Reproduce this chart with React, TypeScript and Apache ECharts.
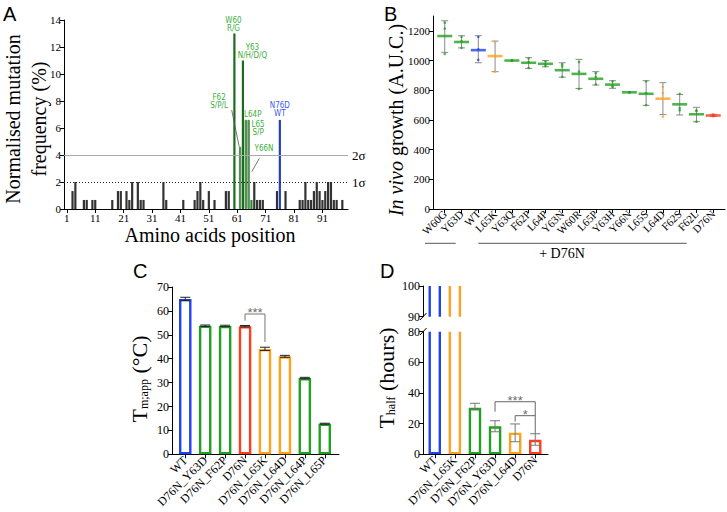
import React, { useEffect, useRef } from 'react';
import * as echarts from 'echarts';

const SERIF = "'Liberation Serif','Times New Roman',serif";
const SANS = "'Liberation Sans',Arial,sans-serif";
const NARROW = "'Liberation Sans Narrow','Arial Narrow','DejaVu Sans Condensed','Liberation Sans',sans-serif";

const COLOR: Record<string, string> = { g: '#22a022', b: '#2244ee', o: '#ffa11e', r: '#ff3d1f' };
const LABEL_GREEN = '#3cae3c';
const LABEL_BLUE = '#3a5cf0';

// ---------- Panel A: mutation frequency per position ----------
const aTickPositions = [1, 11, 21, 31, 41, 51, 61, 71, 81, 91];
const aPositions = [3, 4, 7, 8, 10, 11, 17, 19, 20, 22, 23, 24, 26, 27, 28, 35, 36, 42, 46, 47, 48, 49, 51, 53, 57, 58,
  60, 62, 63, 64, 65, 66, 67, 68, 69, 70, 75, 76, 78, 83, 84, 85, 86, 87, 88, 89, 90, 91, 92, 93, 94, 95, 96, 98];
const aFrequency = [1.33, 2.0, 0.67, 0.67, 0.67, 0.67, 0.67, 1.33, 1.33, 1.33, 0.67, 2.0, 2.0, 0.67, 0.67, 2.0, 0.67, 0.67, 0.67, 1.33, 2.0, 0.67, 1.33, 0.67, 1.33, 1.33,
  13.0, 4.6, 11.0, 6.6, 6.6, 0.67, 2.0, 0.67, 0.67, 0.67, 1.33, 6.6, 1.33, 0.67, 0.67, 2.0, 0.67, 0.67, 1.33, 2.0, 1.33, 0.67, 1.33, 2.0, 2.0, 0.67, 0.67, 0.67];
const aSigmaLevels = [4, 2];
const aSigmaNames = ['2σ', '1σ'];
const aAnnotations: Record<number, { text: string; color: string; offset: number[]; distance: number }> = {
  60: { text: 'W60\nR/G', color: LABEL_GREEN, offset: [-1, 0], distance: 1 },
  62: { text: 'F62\nS/P/L', color: LABEL_GREEN, offset: [-21, -37], distance: 0 },
  63: { text: 'Y63\nN/H/D/Q', color: LABEL_GREEN, offset: [9.5, 0], distance: 1.5 },
  64: { text: 'L64P', color: LABEL_GREEN, offset: [7, 0], distance: 1 },
  65: { text: 'L65\nS/P', color: LABEL_GREEN, offset: [9.5, 17], distance: 0 },
  66: { text: 'Y66N', color: LABEL_GREEN, offset: [12.6, -47], distance: 0 },
  76: { text: 'N76D\nWT', color: LABEL_BLUE, offset: [0, 0], distance: 2 },
};
// leader lines (data coordinates: position, frequency)
const aLeaderF62 = [[59.05, 7.33], [61.7, 4.61]];
const aLeaderY66 = [[68.8, 3.76], [66.1, 2.76]];

// ---------- Panel B: in vivo growth ----------
const bMutants = ['W60G', 'Y63D', 'WT', 'L65K', 'Y63Q', 'F62P', 'L64P', 'Y63N', 'W60R', 'L65P', 'Y63H', 'Y66N', 'L65S', 'L64D', 'F62S', 'F62L', 'D76N'];
const bGroup = ['g', 'g', 'b', 'o', 'g', 'g', 'g', 'g', 'g', 'g', 'g', 'g', 'g', 'o', 'g', 'g', 'r'];
const bMean = [1165, 1125, 1070, 1030, 1000, 985, 978, 935, 910, 877, 838, 786, 776, 743, 705, 638, 630];
const bLow = [1055, 1085, 985, 925, 1000, 947, 958, 888, 812, 835, 813, 786, 698, 636, 633, 588, 624];
const bHigh = [1268, 1167, 1167, 1131, 1000, 1019, 1000, 985, 1008, 925, 864, 786, 864, 851, 772, 685, 638];
const bRep1 = [1255, 1160, 1160, 1125, 1000, 1015, 995, 975, 990, 915, 860, 786, 860, 822, 776, 664, 636];
const bRep2 = [1215, 1130, 1075, 1030, 1000, 990, 975, 960, 925, 890, 830, 786, 780, 782, 665, 660, 630];
const bRep3 = [1045, 1085, 1005, 925, 1000, 950, 962, 890, 808, 840, 822, 786, 700, 622, 680, 588, 626];
const bYTicks = [0, 200, 400, 600, 800, 1000, 1200];

// ---------- Panel C: Tm,app ----------
const cVariants = ['WT', 'D76N_Y63D', 'D76N_F62P', 'D76N', 'D76N_L65K', 'D76N_L64D', 'D76N_L64P', 'D76N_L65P'];
const cGroup = ['b', 'g', 'g', 'r', 'o', 'o', 'g', 'g'];
const cTm = [65.0, 53.8, 53.7, 53.6, 44.1, 41.0, 31.9, 12.8];
const cErr = [0.7, 0.3, 0.3, 0.3, 0.7, 0.4, 0.3, 0.2];

// ---------- Panel D: T half ----------
const dVariants = ['WT', 'D76N_L65K', 'D76N_F62P', 'D76N_Y63D', 'D76N_L64D', 'D76N'];
const dGroup = ['b', 'o', 'g', 'g', 'o', 'r'];
const dThalf = [120, 120, 30.4, 18.3, 14.1, 9.5]; // first two are off-scale (>100 h)
const dErrLow = [0, 0, 28.9, 14.7, 8.2, 5.9];
const dErrHigh = [0, 0, 33.3, 21.9, 19.8, 13.4];

const range = (n: number) => Array.from({ length: n }, (_, i) => i);

const baseAxis = (extra: any) => ({
  axisLine: { show: true, onZero: false, lineStyle: { color: '#000', width: 1 } },
  axisTick: { show: true, length: 4, lineStyle: { color: '#000', width: 1 } },
  splitLine: { show: false },
  ...extra,
});

function barRenderer(groups: string[], edgeColor: string, withErr: boolean, errLow?: number[], errHigh?: number[]) {
  return (params: any, api: any) => {
    const i = api.value(0);
    const v = api.value(1);
    const idx = Math.round(i);
    const col = COLOR[groups[idx]];
    const base = api.coord([i, 0]);
    const top = api.coord([i, v]);
    const w = 12.5;
    const lw = 2.4;
    const y = top[1] + lw / 2;
    const children: any[] = [
      {
        type: 'rect',
        shape: { x: base[0] - w / 2 + lw / 2, y, width: w - lw, height: base[1] - y - lw / 2 },
        style: { fill: '#fff', stroke: col, lineWidth: lw },
      },
    ];
    if (withErr && errLow && errHigh && errHigh[idx] > errLow[idx]) {
      const hi = api.coord([i, errHigh[idx]]);
      const lo = api.coord([i, errLow[idx]]);
      const c = 5;
      const st = { stroke: edgeColor, lineWidth: 1 };
      children.push(
        { type: 'line', shape: { x1: hi[0], y1: hi[1], x2: lo[0], y2: lo[1] }, style: st },
        { type: 'line', shape: { x1: hi[0] - c, y1: hi[1], x2: hi[0] + c, y2: hi[1] }, style: st },
        { type: 'line', shape: { x1: lo[0] - c, y1: lo[1], x2: lo[0] + c, y2: lo[1] }, style: st },
      );
    }
    return { type: 'group', children };
  };
}

export default function App() {
  const ref = useRef<HTMLDivElement>(null);
  useEffect(() => {
    document.body.style.margin = '0';
    if (!ref.current) return;
    const chart = echarts.init(ref.current, null, { renderer: 'svg' });

    const cLow = cTm.map((v, i) => v - cErr[i]);
    const cHigh = cTm.map((v, i) => v + cErr[i]);

    const gA = { left: 64, top: 20, width: 284, height: 189 };
    const gB = { left: 433, top: 16, width: 292, height: 193 };
    const gC = { left: 172, top: 287, width: 167, height: 167.3 };
    const gD = { left: 423, top: 331.7, width: 125, height: 122.6 };
    const gDt = { left: 423, top: 286, width: 125, height: 30.7 };

    const labelSerif = (size: number) => ({ fontFamily: SERIF, fontSize: size, color: '#000' });
    const plain = (v: number) => String(v);

    const option: any = {
      animation: false,
      backgroundColor: '#fff',
      grid: [gA, gB, gC, gD, gDt],
      xAxis: [
        baseAxis({
          type: 'value', gridIndex: 0, min: 0, max: 100,
          axisTick: { show: true, length: 4, customValues: aTickPositions, lineStyle: { color: '#000' } },
          axisLabel: { ...labelSerif(11), margin: 3, customValues: aTickPositions, formatter: plain },
        }),
        baseAxis({
          type: 'value', gridIndex: 1, min: -0.7, max: 16.7,
          axisTick: { show: true, length: 4, customValues: range(17), lineStyle: { color: '#000' } },
          axisLabel: { ...labelSerif(11), margin: 3, rotate: 45, customValues: range(17), formatter: (v: number) => bMutants[Math.round(v)] ?? '' },
        }),
        baseAxis({
          type: 'value', gridIndex: 2, min: -0.665, max: 7.715,
          axisTick: { show: true, length: 4, customValues: range(8), lineStyle: { color: '#000' } },
          axisLabel: { ...labelSerif(12), margin: 4, rotate: 45, customValues: range(8), formatter: (v: number) => cVariants[Math.round(v)] ?? '' },
        }),
        baseAxis({
          type: 'value', gridIndex: 3, min: -0.585, max: 5.635,
          axisTick: { show: true, length: 4, customValues: range(6), lineStyle: { color: '#000' } },
          axisLabel: { ...labelSerif(12), margin: 4, rotate: 45, customValues: range(6), formatter: (v: number) => dVariants[Math.round(v)] ?? '' },
        }),
        { type: 'value', gridIndex: 4, min: -0.585, max: 5.635, show: false },
      ],
      yAxis: [
        baseAxis({ type: 'value', gridIndex: 0, min: 0, max: 14, interval: 2, axisLabel: { ...labelSerif(11), margin: 3, formatter: plain } }),
        baseAxis({
          type: 'value', gridIndex: 1, min: 0, max: 1300,
          axisTick: { show: true, length: 4, customValues: bYTicks, lineStyle: { color: '#000' } },
          axisLabel: { ...labelSerif(11), margin: 3, customValues: bYTicks, formatter: plain },
        }),
        baseAxis({ type: 'value', gridIndex: 2, min: 0, max: 70, interval: 10, axisLabel: { ...labelSerif(12), margin: 3, formatter: plain } }),
        baseAxis({ type: 'value', gridIndex: 3, min: 0, max: 80, interval: 20, axisLabel: { ...labelSerif(12), margin: 3, formatter: plain } }),
        baseAxis({ type: 'value', gridIndex: 4, min: 90, max: 100, interval: 10, axisLabel: { ...labelSerif(12), margin: 3, formatter: plain } }),
      ],
      series: [
        // ---- A
        {
          type: 'bar', xAxisIndex: 0, yAxisIndex: 0, barWidth: 2.2,
          data: aPositions.map((p, i) => {
            let itemStyle: any = { color: '#333' };
            if (p === 60 || p === 63) itemStyle = { color: '#1d6b1d' };
            else if (p === 62 || p === 64 || p === 65) itemStyle = { color: '#8a9a8a', borderColor: '#237f23', borderWidth: 0.8 };
            else if (p === 66) itemStyle = { color: '#2a8a2a' };
            else if (p === 76) itemStyle = { color: '#2340b5' };
            const an = aAnnotations[p];
            const label = an
              ? {
                  show: true, position: 'top', formatter: an.text, color: an.color, fontFamily: NARROW, fontSize: 8,
                  lineHeight: 8, offset: an.offset, distance: an.distance, align: 'center',
                }
              : { show: false };
            return { value: [p, aFrequency[i]], itemStyle, label };
          }),
          markLine: {
            silent: true, symbol: ['none', 'none'],
            label: { show: true, position: 'end', distance: 4, fontFamily: SERIF, fontSize: 13, color: '#000' },
            data: aSigmaLevels.map((lv, k) => ({
              yAxis: lv,
              label: { formatter: aSigmaNames[k] },
              lineStyle: k === 0 ? { color: '#aaa', type: 'solid', width: 1 } : { color: '#222', type: [1, 2], width: 1 },
            })),
          },
        },
        { type: 'line', xAxisIndex: 0, yAxisIndex: 0, data: aLeaderF62, symbol: 'none', lineStyle: { color: '#555', width: 0.8 } },
        { type: 'line', xAxisIndex: 0, yAxisIndex: 0, data: aLeaderY66, symbol: 'none', lineStyle: { color: '#555', width: 0.8 } },
        // ---- B
        {
          type: 'custom', xAxisIndex: 1, yAxisIndex: 1, z: 2,
          data: bMutants.map((_, i) => [i, bLow[i], bHigh[i]]),
          renderItem: (params: any, api: any) => {
            const i = api.value(0);
            const lo = api.value(1);
            const hi = api.value(2);
            if (hi - lo < 1) return { type: 'group', children: [] };
            const t = api.coord([i, hi]);
            const b = api.coord([i, lo]);
            const c = 3.5;
            const st = { stroke: '#8a8a8a', lineWidth: 1 };
            return {
              type: 'group',
              children: [
                { type: 'line', shape: { x1: t[0], y1: t[1], x2: b[0], y2: b[1] }, style: st },
                { type: 'line', shape: { x1: t[0] - c, y1: t[1], x2: t[0] + c, y2: t[1] }, style: st },
                { type: 'line', shape: { x1: b[0] - c, y1: b[1], x2: b[0] + c, y2: b[1] }, style: st },
              ],
            };
          },
        },
        {
          type: 'scatter', xAxisIndex: 1, yAxisIndex: 1, z: 3, symbol: 'circle', symbolSize: 2.6,
          data: bMutants.flatMap((_, i) => [bRep1[i], bRep2[i], bRep3[i]].map((v) => ({ value: [i, v], itemStyle: { color: COLOR[bGroup[i]] } }))),
        },
        {
          type: 'scatter', xAxisIndex: 1, yAxisIndex: 1, z: 4, symbol: 'rect', symbolSize: [15, 2.6],
          data: bMutants.map((_, i) => ({ value: [i, bMean[i]], itemStyle: { color: COLOR[bGroup[i]] } })),
        },
        // ---- C
        {
          type: 'custom', xAxisIndex: 2, yAxisIndex: 2, clip: false,
          data: cVariants.map((_, i) => [i, cTm[i]]),
          renderItem: barRenderer(cGroup, '#222', true, cLow, cHigh),
        },
        {
          type: 'line', xAxisIndex: 2, yAxisIndex: 2, symbol: 'none', lineStyle: { color: '#777', width: 1 },
          data: [[3, 55.9], [3, 58.7], [4, 58.7], [4, 47]],
        },
        {
          type: 'scatter', xAxisIndex: 2, yAxisIndex: 2, symbolSize: 0.01, data: [[3.5, 58.7]],
          label: { show: true, position: 'top', distance: 0, offset: [0, 5], formatter: '***', color: '#444', fontFamily: SANS, fontSize: 13 },
        },
        // ---- D
        {
          type: 'custom', xAxisIndex: 3, yAxisIndex: 3, clip: true,
          data: dVariants.map((_, i) => [i, dThalf[i]]),
          renderItem: barRenderer(dGroup, '#777', true, dErrLow, dErrHigh),
        },
        {
          type: 'custom', xAxisIndex: 4, yAxisIndex: 4, clip: true,
          data: dVariants.map((_, i) => [i, dThalf[i]]),
          renderItem: barRenderer(dGroup, '#777', false),
        },
        {
          type: 'line', xAxisIndex: 3, yAxisIndex: 3, symbol: 'none', lineStyle: { color: '#666', width: 1 },
          data: [[3, 27.8], [3, 34.3], [5, 34.3], [5, 13.7]],
        },
        {
          type: 'line', xAxisIndex: 3, yAxisIndex: 3, symbol: 'none', lineStyle: { color: '#666', width: 1 },
          data: [[4, 21.3], [4, 25.2], [5, 25.2]],
        },
        {
          type: 'scatter', xAxisIndex: 3, yAxisIndex: 3, symbolSize: 0.01, data: [[4, 34.3]],
          label: { show: true, position: 'top', distance: 0, offset: [0, 5], formatter: '***', color: '#444', fontFamily: SANS, fontSize: 13 },
        },
        {
          type: 'scatter', xAxisIndex: 3, yAxisIndex: 3, symbolSize: 0.01, data: [[4.5, 25.2]],
          label: { show: true, position: 'top', distance: 0, offset: [0, 5], formatter: '*', color: '#444', fontFamily: SANS, fontSize: 13 },
        },
      ],
      graphic: [
        { type: 'text', x: 3, y: 4, style: { text: 'A', fontFamily: SANS, fontSize: 20, fill: '#000' } },
        { type: 'text', x: 384, y: 4, style: { text: 'B', fontFamily: SANS, fontSize: 20, fill: '#000' } },
        { type: 'text', x: 133, y: 261, style: { text: 'C', fontFamily: SANS, fontSize: 20, fill: '#000' } },
        { type: 'text', x: 380, y: 261, style: { text: 'D', fontFamily: SANS, fontSize: 20, fill: '#000' } },
        {
          type: 'text', x: 26, y: 119, rotation: Math.PI / 2,
          style: { text: 'Normalised mutation\nfrequency (%)', fontFamily: SERIF, fontSize: 20, lineHeight: 26, fill: '#000', align: 'center', verticalAlign: 'middle' },
        },
        {
          type: 'text', x: 210, y: 235,
          style: { text: 'Amino acids position', fontFamily: SERIF, fontSize: 20, fill: '#000', align: 'center', verticalAlign: 'middle' },
        },
        {
          type: 'text', x: 396, y: 120, rotation: Math.PI / 2,
          style: {
            text: '{i|In vivo} growth (A.U.C.)', fontFamily: SERIF, fontSize: 20, fill: '#000', align: 'center', verticalAlign: 'middle',
            rich: { i: { fontStyle: 'italic', fontFamily: SERIF, fontSize: 20, fill: '#000' } },
          },
        },
        { type: 'line', shape: { x1: 425, y1: 243.3, x2: 455.7, y2: 243.3 }, style: { stroke: '#555', lineWidth: 1 } },
        { type: 'line', shape: { x1: 478.3, y1: 243.3, x2: 686.7, y2: 243.3 }, style: { stroke: '#555', lineWidth: 1 } },
        {
          type: 'text', x: 562, y: 253.5,
          style: { text: '+ D76N', fontFamily: SERIF, fontSize: 14, fill: '#000', align: 'center', verticalAlign: 'middle' },
        },
        {
          type: 'text', x: 139, y: 379, rotation: Math.PI / 2,
          style: {
            text: '{t|T}{s|m;app}{t| (°C)}', fontFamily: SERIF, fontSize: 22, fill: '#000', align: 'center', verticalAlign: 'middle',
            rich: {
              t: { fontFamily: SERIF, fontSize: 22, fill: '#000' },
              s: { fontFamily: SERIF, fontSize: 12, fill: '#000', verticalAlign: 'bottom' },
            },
          },
        },
        {
          type: 'text', x: 386, y: 378, rotation: Math.PI / 2,
          style: {
            text: '{t|T}{s|half}{t| (hours)}', fontFamily: SERIF, fontSize: 22, fill: '#000', align: 'center', verticalAlign: 'middle',
            rich: {
              t: { fontFamily: SERIF, fontSize: 22, fill: '#000' },
              s: { fontFamily: SERIF, fontSize: 12, fill: '#000', verticalAlign: 'bottom' },
            },
          },
        },
        { type: 'line', shape: { x1: 420, y1: 320, x2: 426.5, y2: 313 }, style: { stroke: '#000', lineWidth: 1 } },
        { type: 'line', shape: { x1: 420, y1: 335, x2: 426.5, y2: 328 }, style: { stroke: '#000', lineWidth: 1 } },
      ],
    };

    chart.setOption(option);
    return () => chart.dispose();
  }, []);

  return <div ref={ref} style={{ width: 727, height: 512 }} />;
}
